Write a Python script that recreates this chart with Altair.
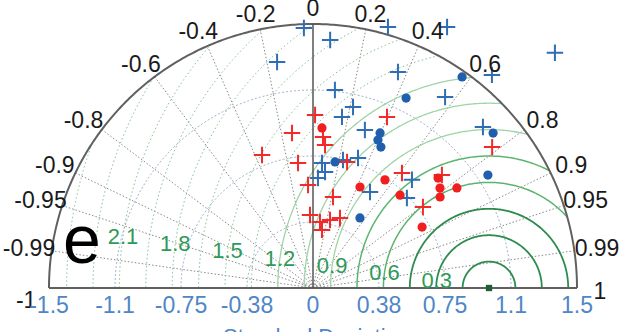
import altair as alt
import numpy as np
import pandas as pd

# ---------------- axis / grid definitions ----------------
corr_ticks = [-1, -0.99, -0.95, -0.9, -0.8, -0.6, -0.4, -0.2, 0, 0.2, 0.4, 0.6, 0.8, 0.9, 0.95, 0.99, 1]
corr_tick_labels = ["-1", "-0.99", "-0.95", "-0.9", "-0.8", "-0.6", "-0.4", "-0.2", "0",
                    "0.2", "0.4", "0.6", "0.8", "0.9", "0.95", "0.99", "1"]
grid_corr = [-0.99, -0.95, -0.9, -0.8, -0.6, -0.4, -0.2, 0.2, 0.4, 0.6, 0.8, 0.9, 0.95, 0.99]
std_ticks = [-1.5, -1.125, -0.75, -0.375, 0, 0.375, 0.75, 1.125, 1.5]
std_tick_labels = ["-1.5", "-1.1", "-0.75", "-0.38", "0", "0.38", "0.75", "1.1", "1.5"]
std_arcs = [0.375, 0.75, 1.125]
rms_solid_dark = [0.15, 0.3, 0.45]
rms_solid_mid = [0.6, 0.75]
rms_solid_light = [0.9, 1.05, 1.2]
rms_dotted = [1.35, 1.5, 1.65, 1.8, 1.95, 2.1, 2.25, 2.4]
rms_labels = [0.3, 0.6, 0.9, 1.2, 1.5, 1.8, 2.1]
rms_label_text = ["0.3", "0.6", "0.9", "1.2", "1.5", "1.8", "2.1"]
ref_std = 1.0
max_std = 1.5
panel_label = "e"
x_title = "Standard Deviation"

# ---------------- data points (std, correlation) ----------------
blue_plus_std = [1.478, 1.412, 1.543, 1.667, 1.917, 1.300, 1.581, 1.319, 1.319, 1.132, 1.053,
                 0.986, 0.945, 1.330, 0.712, 0.747, 0.782, 0.663, 0.634, 0.833, 0.739, 0.626]
blue_plus_corr = [-0.035, 0.069, 0.276, 0.457, 0.717, -0.157, 0.643, 0.366, 0.569, 0.110, 0.216,
                  0.167, 0.312, 0.726, 0.072, 0.228, 0.327, 0.103, 0.511, 0.675, 0.722, 0.045]

red_plus_std = [0.983, 0.889, 0.809, 0.715, 0.586, 0.815, 0.529, 0.415, 0.377, 0.398, 0.426,
                0.334, 1.059, 1.295, 0.742, 0.826, 0.974, 0.776, 0.860]
red_plus_corr = [0.012, -0.134, -0.358, -0.119, -0.048, 0.084, 0.215, -0.041, 0.105, 0.243, 0.360,
                 0.153, 0.397, 0.786, 0.261, 0.612, 0.752, 0.805, 0.066]

red_dot_std = [0.911, 0.633, 0.738, 0.723, 0.946, 0.918, 0.888, 0.996, 0.710]
red_dot_corr = [0.056, 0.422, 0.554, 0.684, 0.751, 0.786, 0.813, 0.821, 0.873]

blue_dot_std = [1.468, 1.202, 1.350, 0.960, 0.918, 0.889, 0.727, 1.183, 0.479]
blue_dot_corr = [0.577, 0.440, 0.758, 0.397, 0.402, 0.434, 0.172, 0.840, 0.557]

# ---------------- helpers ----------------
def polar(std, corr):
    std = np.asarray(std, float)
    corr = np.asarray(corr, float)
    return std * corr, std * np.sqrt(np.clip(1 - corr ** 2, 0, None))


def pts_df(std, corr):
    x, y = polar(std, corr)
    return pd.DataFrame({"x": x, "y": y})


def std_arc_df(radii, n=181):
    rows = []
    for r in radii:
        t = np.linspace(0, np.pi, n)
        for i, a in enumerate(t):
            rows.append({"x": r * np.cos(a), "y": r * np.sin(a), "g": str(r), "o": i})
    return pd.DataFrame(rows)


def rms_arc_df(radii, n=200):
    rows = []
    for r in radii:
        c0 = (max_std ** 2 - ref_std ** 2 - r ** 2) / (2 * r * ref_std)
        phi0 = 0.0 if c0 >= 1 else np.arccos(np.clip(c0, -1, 1))
        t = np.linspace(phi0, np.pi, n)
        for i, a in enumerate(t):
            rows.append({"x": ref_std + r * np.cos(a), "y": r * np.sin(a), "g": str(r), "o": i})
    return pd.DataFrame(rows)


def radial_df(corrs):
    rows = []
    for c in corrs:
        x, y = polar([0, max_std], [c, c])
        rows.append({"x": x[0], "y": y[0], "g": str(c), "o": 0})
        rows.append({"x": x[1], "y": y[1], "g": str(c), "o": 1})
    return pd.DataFrame(rows)


X = alt.Scale(domain=[-313 / 176, 322 / 176], nice=False, zero=False)
Y = alt.Scale(domain=[-44 / 176, 288 / 176], nice=False, zero=False)


def enc(ch, **kw):
    return ch.encode(x=alt.X("x:Q", scale=X, axis=None), y=alt.Y("y:Q", scale=Y, axis=None), **kw)


def lines(df, color, width, dash=None, opacity=1.0):
    kw = dict(color=color, strokeWidth=width, opacity=opacity)
    if dash:
        kw["strokeDash"] = dash
    return enc(alt.Chart(df).mark_line(**kw), detail="g:N", order="o:Q")


layers = []
# std arcs (light blue-gray, dotted)
layers.append(lines(std_arc_df(std_arcs), "#9fb3cf", 1, [2, 2]))
# radial correlation lines
layers.append(lines(radial_df(grid_corr), "#8a8a8a", 1, [1.5, 2]))
# rms circles
layers.append(lines(rms_arc_df(rms_dotted), "#7fc28d", 1, [1.5, 2.5]))
layers.append(lines(rms_arc_df(rms_solid_light), "#9fd4a6", 1.3))
layers.append(lines(rms_arc_df(rms_solid_mid), "#5cb56f", 1.5))
layers.append(lines(rms_arc_df(rms_solid_dark), "#2e8b4e", 1.8))
# outer boundary
layers.append(lines(std_arc_df([max_std], 361), "#606060", 2))
# baseline and vertical axis
base = pd.DataFrame({"x": [-max_std, max_std], "y": [0, 0], "g": ["b", "b"], "o": [0, 1]})
layers.append(lines(base, "#606060", 2.2))
vert = pd.DataFrame({"x": [0, 0], "y": [0, max_std], "g": ["v", "v"], "o": [0, 1]})
layers.append(lines(vert, "#555555", 1.5))

# markers
plus = "M-1,0L1,0M0,-1L0,1"
layers.append(enc(alt.Chart(pts_df(blue_plus_std, blue_plus_corr)).mark_point(
    shape=plus, filled=False, color="#2f6db5", strokeWidth=2, size=270, opacity=1)))
layers.append(enc(alt.Chart(pts_df(red_plus_std, red_plus_corr)).mark_point(
    shape=plus, filled=False, color="#f22a2a", strokeWidth=2, size=270, opacity=1)))
layers.append(enc(alt.Chart(pts_df(red_dot_std, red_dot_corr)).mark_circle(
    color="#f01e1e", size=85, opacity=1)))
layers.append(enc(alt.Chart(pts_df(blue_dot_std, blue_dot_corr)).mark_circle(
    color="#1f5fae", size=85, opacity=1)))
layers.append(enc(alt.Chart(pts_df([ref_std], [1.0])).mark_square(
    color="#1d5e33", size=40, opacity=1)))

# correlation labels around the arc (slightly elliptical placement)
ct = np.array(corr_ticks, float)
cx = 1.63 * ct
cy = 1.585 * np.sqrt(np.clip(1 - ct ** 2, 0, None))
cy = np.where(ct == -1, cy - 0.075, np.where(ct == 1, cy - 0.025, cy))
corr_df = pd.DataFrame({"x": cx, "y": cy, "t": corr_tick_labels})
layers.append(enc(alt.Chart(corr_df).mark_text(
    font="Liberation Sans", fontSize=23, color="#1a1a1a", align="center", baseline="middle"), text="t:N"))

# std tick labels
std_df = pd.DataFrame({"x": std_ticks, "y": [-0.102] * len(std_ticks), "t": std_tick_labels})
layers.append(enc(alt.Chart(std_df).mark_text(
    font="Liberation Sans", fontSize=23, color="#4f86c6", align="center", baseline="middle"), text="t:N"))

# rms labels
ang = np.deg2rad(8)
rl = np.array(rms_labels)
rms_df = pd.DataFrame({"x": ref_std - rl * np.cos(ang), "y": rl * np.sin(ang), "t": rms_label_text})
layers.append(enc(alt.Chart(rms_df).mark_text(
    font="Liberation Sans", fontSize=22, color="#2f9a58", align="center", baseline="middle"), text="t:N"))

# x title
title_df = pd.DataFrame({"x": [0.02], "y": [-0.222], "t": [x_title]})
layers.append(enc(alt.Chart(title_df).mark_text(
    font="Liberation Sans", fontSize=22, color="#4f86c6", align="center", baseline="top"), text="t:N"))

# panel label
e_df = pd.DataFrame({"x": [-1.3125], "y": [0.142], "t": [panel_label]})
layers.append(enc(alt.Chart(e_df).mark_text(
    font="Liberation Sans", fontSize=68, color="#000000", align="center", baseline="alphabetic"), text="t:N"))

chart = alt.layer(*layers).properties(
    width=635, height=332, padding=0,
    autosize=alt.AutoSizeParams(type="none"),
).configure_view(strokeWidth=0)

chart.save("out.html", embed_options={"renderer": "svg", "actions": False})
